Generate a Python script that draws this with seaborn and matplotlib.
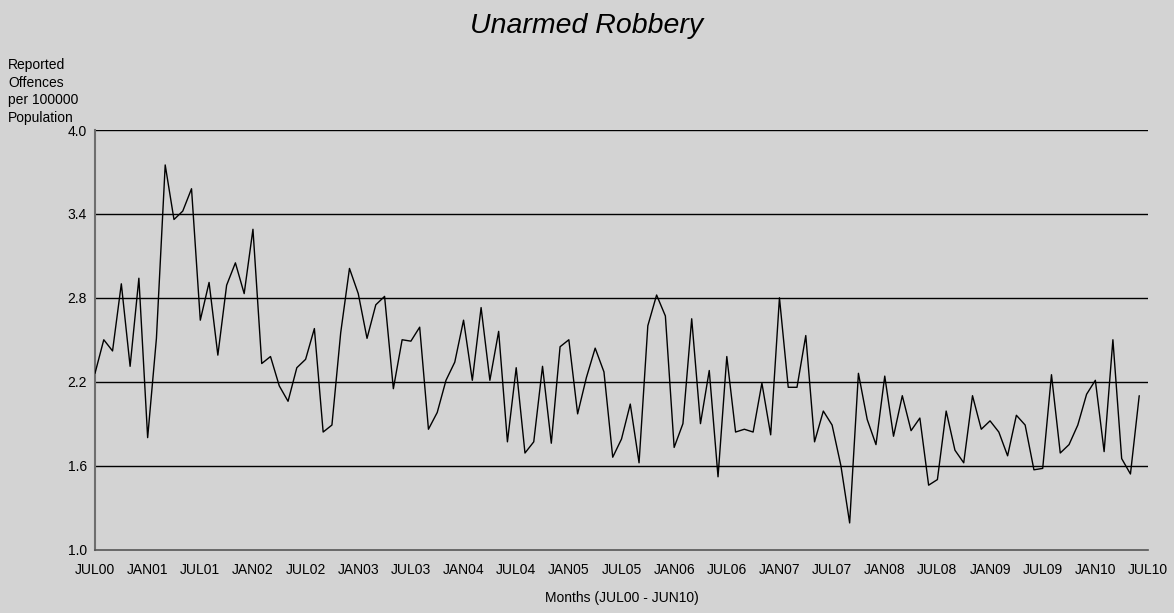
import matplotlib
matplotlib.use("Agg")
import matplotlib.pyplot as plt
import seaborn as sns
import pandas as pd
import numpy as np


# monthly rates, JUL00 .. JUN10
rate_2000_01 = [2.26, 2.50, 2.42, 2.90, 2.31, 2.94, 1.80, 2.51, 3.75, 3.36, 3.42, 3.58]
rate_2001_02 = [2.64, 2.91, 2.39, 2.89, 3.05, 2.83, 3.29, 2.33, 2.38, 2.17, 2.06, 2.30]
rate_2002_03 = [2.36, 2.58, 1.84, 1.89, 2.55, 3.01, 2.83, 2.51, 2.75, 2.81, 2.15, 2.50]
rate_2003_04 = [2.49, 2.59, 1.86, 1.98, 2.21, 2.34, 2.64, 2.21, 2.73, 2.21, 2.56, 1.77]
rate_2004_05 = [2.30, 1.69, 1.77, 2.31, 1.76, 2.45, 2.50, 1.97, 2.23, 2.44, 2.27, 1.66]
rate_2005_06 = [1.79, 2.04, 1.62, 2.60, 2.82, 2.67, 1.73, 1.90, 2.65, 1.90, 2.28, 1.52]
rate_2006_07 = [2.38, 1.84, 1.86, 1.84, 2.19, 1.82, 2.80, 2.16, 2.16, 2.53, 1.77, 1.99]
rate_2007_08 = [1.89, 1.60, 1.19, 2.26, 1.93, 1.75, 2.24, 1.81, 2.10, 1.85, 1.94, 1.46]
rate_2008_09 = [1.50, 1.99, 1.71, 1.62, 2.10, 1.86, 1.92, 1.84, 1.67, 1.96, 1.89, 1.57]
rate_2009_10 = [1.58, 2.25, 1.69, 1.75, 1.89, 2.11, 2.21, 1.70, 2.50, 1.65, 1.54, 2.10]

tick_labels = ["JUL00", "JAN01", "JUL01", "JAN02", "JUL02", "JAN03", "JUL03",
               "JAN04", "JUL04", "JAN05", "JUL05", "JAN06", "JUL06", "JAN07",
               "JUL07", "JAN08", "JUL08", "JAN09", "JUL09", "JAN10", "JUL10"]
y_ticks = [1.0, 1.6, 2.2, 2.8, 3.4, 4.0]

rates = (rate_2000_01 + rate_2001_02 + rate_2002_03 + rate_2003_04 + rate_2004_05
         + rate_2005_06 + rate_2006_07 + rate_2007_08 + rate_2008_09 + rate_2009_10)
df = pd.DataFrame({"month": np.arange(len(rates)), "rate": rates})

bg = "#d3d3d3"
sns.set_style("white")
plt.rcParams["font.family"] = ["Liberation Sans", "DejaVu Sans"]
plt.rcParams["text.color"] = "black"
plt.rcParams["xtick.color"] = "black"
plt.rcParams["ytick.color"] = "black"
plt.rcParams["axes.labelcolor"] = "black"

fig = plt.figure(figsize=(11.74, 6.13), dpi=100, facecolor=bg)
ax = fig.add_axes([95 / 1174, 63.5 / 613, 1053 / 1174, 419.5 / 613])
ax.set_facecolor(bg)

for yv in y_ticks[1:]:
    ax.axhline(yv, color="black", lw=1.0, zorder=1)

sns.lineplot(data=df, x="month", y="rate", color="black", lw=1.0, ax=ax, zorder=3)

ax.set_xlim(0, 120)
ax.set_ylim(1.0, 4.0)
ax.set_xticks(np.arange(0, 121, 6))
ax.set_xticklabels(tick_labels, fontsize=10)
ax.set_xticks(np.arange(3, 120, 6), minor=True)
ax.set_yticks(y_ticks)
ax.set_yticklabels([f"{v:.1f}" for v in y_ticks], fontsize=10)
ax.tick_params(axis="x", which="major", length=6, width=1, color="#555555", direction="out", pad=4)
ax.tick_params(axis="x", which="minor", length=3, width=1, color="#555555", direction="out")
ax.tick_params(axis="y", length=4, width=1, color="#555555", direction="out", pad=2)

for side in ["top", "right"]:
    ax.spines[side].set_visible(False)
ax.spines["left"].set_color("#6e6e6e")
ax.spines["left"].set_linewidth(1.5)
ax.spines["bottom"].set_color("#555555")
ax.spines["bottom"].set_linewidth(1.2)

ax.set_xlabel("Months (JUL00 - JUN10)", fontsize=10, labelpad=10)
ax.set_ylabel("")

fig.text(0.5, 1 - 26 / 613, "Unarmed Robbery", ha="center", va="center", fontsize=20.5, style="italic")
fig.text(8 / 1174, 1 - 58 / 613, "Reported\nOffences\nper 100000\nPopulation",
         ha="left", va="top", fontsize=10, linespacing=1.32)

fig.savefig("out.png", dpi=100, facecolor=bg)
